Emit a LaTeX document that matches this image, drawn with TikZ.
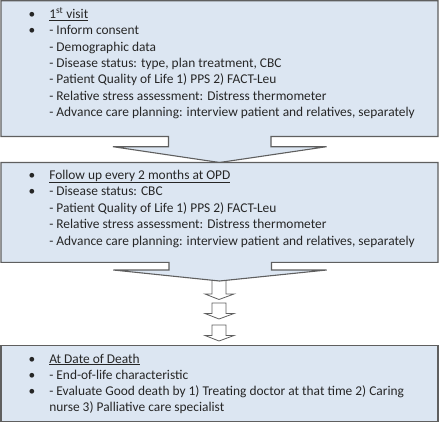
\documentclass[tikz,border=0pt]{standalone}
\usepackage{fontspec}
\setmainfont{Carlito}
\definecolor{boxfill}{HTML}{DCE6F2}
\definecolor{boxline}{HTML}{5F5F5F}
\definecolor{txt}{HTML}{262626}
\begin{document}
\begin{tikzpicture}[x=1pt,y=-1pt,
  shapebox/.style={fill=boxfill,draw=boxline,line width=1.1pt,line join=miter},
  smallarrow/.style={fill=white,draw=boxline,line width=0.8pt},
  line/.style={anchor=base west,inner sep=0pt,outer sep=0pt,text=txt,font=\fontsize{13.4}{15}\selectfont},
  bul/.style={anchor=base,inner sep=0pt,outer sep=0pt,text=txt,font=\fontsize{13.4}{15}\selectfont}]
\useasboundingbox (0,0) rectangle (440,423);
% small arrows
\draw[smallarrow] (212,280) -- (226,280) -- (226,294) -- (234,294) -- (219,299.5) -- (205,294) -- (212,294) -- cycle;
\draw[smallarrow] (212,303) -- (226,303) -- (226,313.5) -- (234,313.5) -- (219,319) -- (205,313.5) -- (212,313.5) -- cycle;
\draw[smallarrow] (212,325) -- (226,325) -- (226,335.5) -- (234,335.5) -- (219,341) -- (205,335.5) -- (212,335.5) -- cycle;
% box 1
\draw[shapebox] (1,0.8) -- (438,0.8) -- (438,136.5) -- (271,136.5) -- (271,146.7) -- (326.5,146.7) -- (219.5,162.5) -- (113,146.7) -- (168.5,146.7) -- (168.5,136.5) -- (1,136.5) -- cycle;
% box 2
\draw[shapebox] (1,162.5) -- (438,162.5) -- (438,262.3) -- (271.5,262.3) -- (271.5,270) -- (326.7,270) -- (219.5,281) -- (113.3,270) -- (169,270) -- (169,262.3) -- (1,262.3) -- cycle;
% box 3
\draw[shapebox] (1,345.5) rectangle (438,421.7);
% box 1 text
\node[bul] (b11) at (32,18.5) {•};
\node[bul] (b12) at (32,34.8) {•};
\node[line] (t11) at (49.3,18.5) {\underline{1\textsuperscript{st} visit}};
\node[line] (t12) at (49.3,34.8) {- Inform consent};
\node[line] (t13) at (49.3,51.1) {- Demographic data};
\node[line] (t14) at (49.3,67.4) {- Disease status: type, plan treatment, CBC};
\node[line] (t15) at (49.3,83.7) {- Patient Quality of Life 1) PPS 2) FACT-Leu};
\node[line] (t16) at (49.3,100.0) {- Relative stress assessment: Distress thermometer};
\node[line] (t17) at (49.3,116.3) {- Advance care planning: interview patient and relatives, separately};
% box 2 text
\node[bul] (b21) at (32,179) {•};
\node[bul] (b22) at (32,195.5) {•};
\node[line] (t21) at (49.3,179) {\underline{Follow up every 2 months at OPD}};
\node[line] (t22) at (49.3,195.5) {- Disease status: CBC};
\node[line] (t23) at (49.3,212) {- Patient Quality of Life 1) PPS 2) FACT-Leu};
\node[line] (t24) at (49.3,228.5) {- Relative stress assessment: Distress thermometer};
\node[line] (t25) at (49.3,245) {- Advance care planning: interview patient and relatives, separately};
% box 3 text
\node[bul] (b31) at (32,363) {•};
\node[bul] (b32) at (32,379.3) {•};
\node[bul] (b33) at (32,395.6) {•};
\node[line] (t31) at (49.3,363) {\underline{At Date of Death}};
\node[line] (t32) at (49.3,379.3) {- End-of-life characteristic};
\node[line] (t33) at (49.3,395.6) {- Evaluate Good death by 1) Treating doctor at that time 2) Caring};
\node[line] (t34) at (49.3,411.9) {nurse 3) Palliative care specialist};
\end{tikzpicture}
\end{document}
